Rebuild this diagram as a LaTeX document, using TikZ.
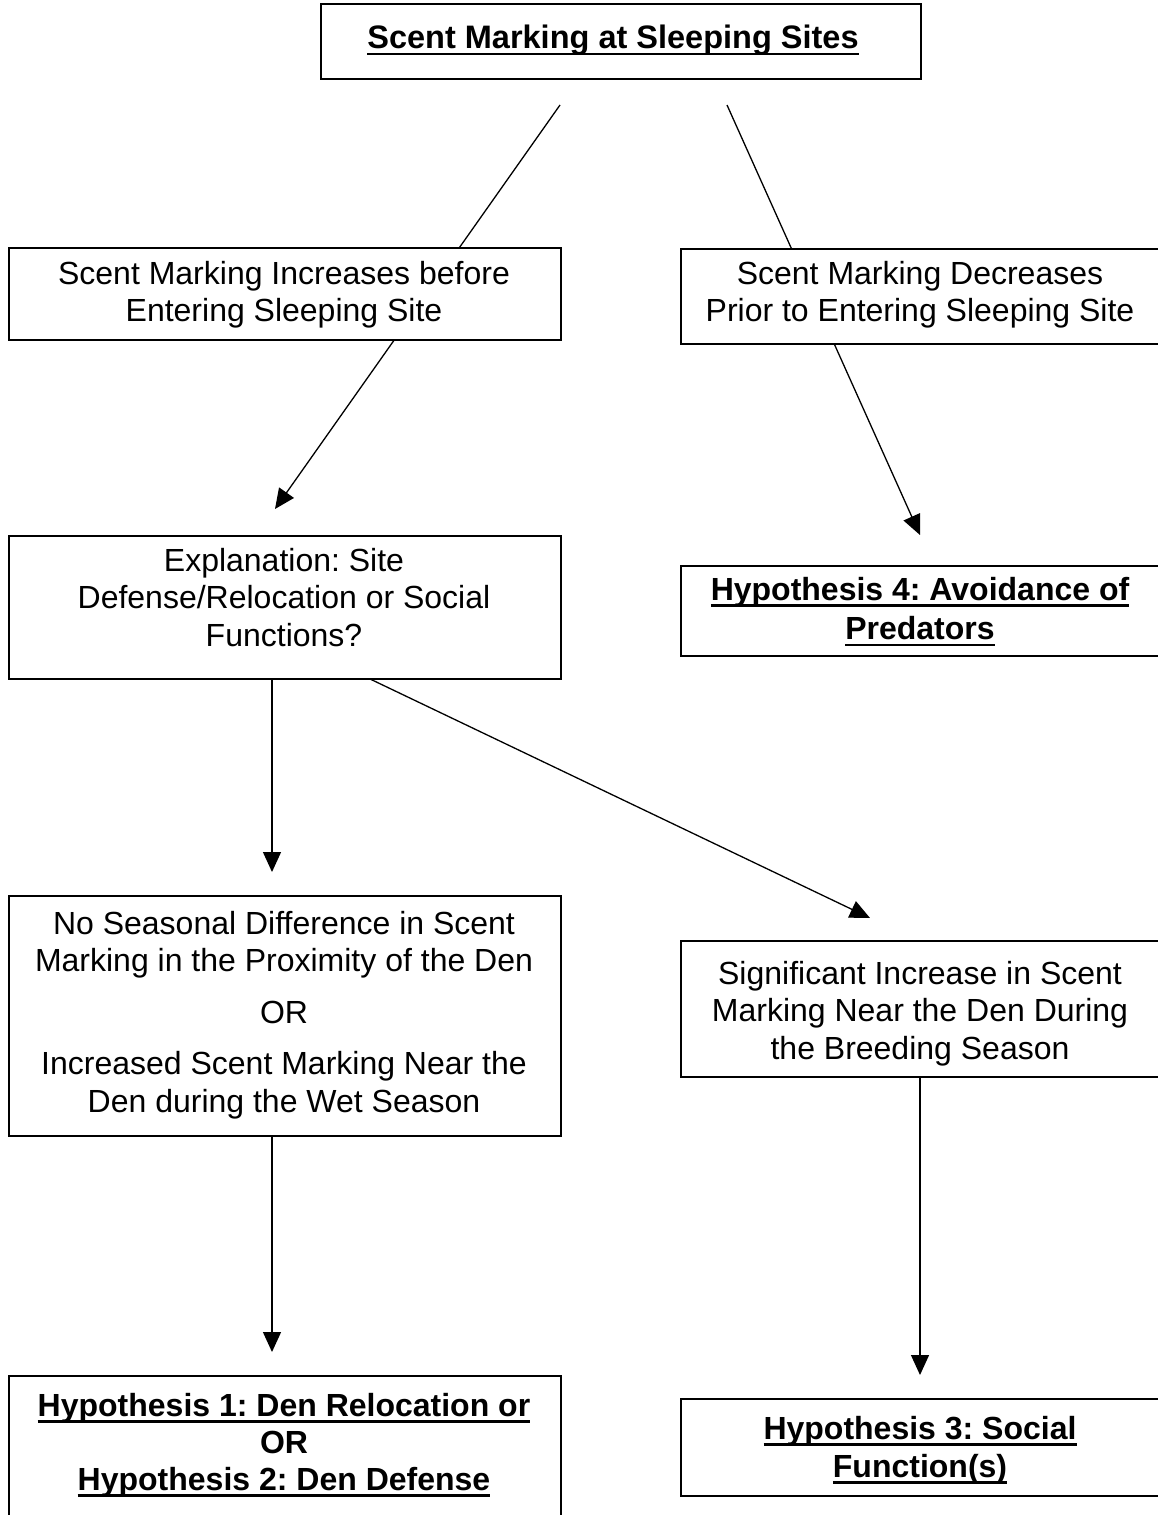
\documentclass[tikz,border=0pt]{standalone}
\usepackage{fontspec}
\setmainfont{Liberation Sans}
\usetikzlibrary{arrows.meta,backgrounds}
\frenchspacing
\newcommand{\ulin}[1]{\setbox0\hbox{#1}\rlap{\rule[-6.5pt]{\wd0}{2.5pt}}\box0}
\begin{document}
\begin{tikzpicture}[x=1pt,y=-1pt,
  box/.style={draw, line width=2pt, fill=white, inner sep=0pt, anchor=north west},
  txt/.style={align=center, inner sep=0pt, anchor=north, font=\fontsize{32}{37.5}\selectfont},
  arr/.style={line width=1.3pt, -{Triangle[length=20pt,width=18pt]}},
  ln/.style={line width=1.3pt}]
\useasboundingbox (0,0) rectangle (1158,1515);
\clip (0,0) rectangle (1158,1515);
% boxes
\node[box, minimum width=600pt, minimum height=75pt] (top) at (320,3) {};
\node[box, minimum width=552pt, minimum height=92pt] (inc) at (8,247) {};
\node[box, minimum width=481pt, minimum height=95pt] (dec) at (680,248) {};
\node[box, minimum width=552pt, minimum height=143pt] (expl) at (8,535) {};
\node[box, minimum width=481pt, minimum height=90pt] (h4) at (680,565) {};
\node[box, minimum width=552pt, minimum height=240pt] (noseas) at (8,895) {};
\node[box, minimum width=481pt, minimum height=136pt] (sig) at (680,940) {};
\node[box, minimum width=552pt, minimum height=170pt] (h12) at (8,1375) {};
\node[box, minimum width=481pt, minimum height=97pt] (h3) at (680,1398) {};
% texts
\node[txt, font=\fontsize{32.5}{37.5}\selectfont] (ttop) at (613,25) {\bfseries\ulin{Scent Marking at Sleeping Sites}};
\node[txt] (tinc) at (284,261) {Scent Marking Increases before\\Entering Sleeping Site};
\node[txt] (tdec) at (920,261) {Scent Marking Decreases\\Prior to Entering Sleeping Site};
\node[txt] (texpl) at (284,548) {Explanation: Site\\Defense/Relocation or Social\\Functions?};
\node[txt, font=\fontsize{32}{39.5}\selectfont\bfseries] (th4) at (920,577) {\ulin{Hypothesis 4: Avoidance of}\\\ulin{Predators}};
\node[txt] (tnoseas) at (284,911) {No Seasonal Difference in Scent\\Marking in the Proximity of the Den\\[14pt]OR\\[14pt]Increased Scent Marking Near the\\Den during the Wet Season};
\node[txt] (tsig) at (920,961) {Significant Increase in Scent\\Marking Near the Den During\\the Breeding Season};
\node[txt, font=\fontsize{32}{37}\selectfont\bfseries] (th12) at (284,1393) {\ulin{Hypothesis 1: Den Relocation or}\\OR\\\ulin{Hypothesis 2: Den Defense}};
\node[txt, font=\fontsize{32}{38}\selectfont\bfseries] (th3) at (920,1416) {\ulin{Hypothesis 3: Social}\\\ulin{Function(s)}};
% connector end points
\coordinate (aS) at (560,105);
\coordinate (aT) at (275,509);
\coordinate (bS) at (727,105);
\coordinate (bT) at (920,535);
\coordinate (cT) at (272,872);
\coordinate (dS) at (368,678);
\coordinate (dT) at (870,918);
\coordinate (eT) at (272,1352);
\coordinate (fT) at (920,1375);
\begin{scope}[on background layer]
\draw[arr] (aS) -- (aT);
\draw[arr] (bS) -- (bT);
\draw[arr] (expl.south -| cT) -- (cT);
\draw[arr] (dS) -- (dT);
\draw[arr] (noseas.south -| eT) -- (eT);
\draw[arr] (sig.south -| fT) -- (fT);
\end{scope}
\end{tikzpicture}
\end{document}
